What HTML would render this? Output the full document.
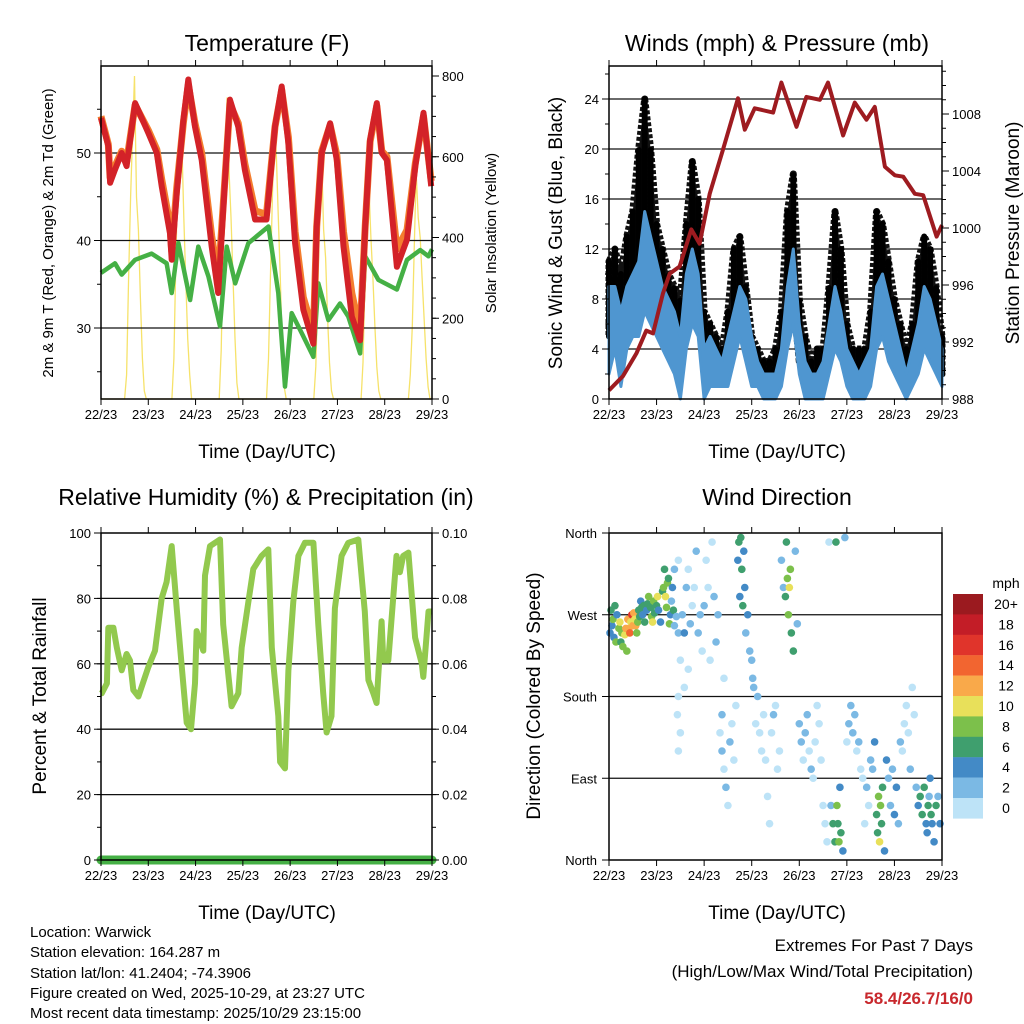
<!DOCTYPE html>
<html><head><meta charset="utf-8"><style>
body{margin:0;background:#fff;width:1024px;height:1024px;overflow:hidden;font-family:"Liberation Sans",sans-serif}
svg{display:block}
.t{font-family:"Liberation Sans",sans-serif;fill:#000}
</style></head><body>
<svg id="s" width="1024" height="1024" viewBox="0 0 1024 1024" xmlns="http://www.w3.org/2000/svg">
<text class="t" x="267" y="51" font-size="23" text-anchor="middle">Temperature (F)</text>
<text class="t" x="777" y="51" font-size="23" text-anchor="middle">Winds (mph) &amp; Pressure (mb)</text>
<text class="t" x="266" y="505" font-size="23" text-anchor="middle">Relative Humidity (%) &amp; Precipitation (in)</text>
<text class="t" x="777" y="505" font-size="23" text-anchor="middle">Wind Direction</text>
<text class="t" transform="translate(53,233) rotate(-90)" font-size="15" text-anchor="middle">2m &amp; 9m T (Red, Orange) &amp; 2m Td (Green)</text>
<text class="t" transform="translate(496,233) rotate(-90)" font-size="15" text-anchor="middle">Solar Insolation (Yellow)</text>
<text class="t" transform="translate(562,233) rotate(-90)" font-size="19" text-anchor="middle">Sonic Wind &amp; Gust (Blue, Black)</text>
<text class="t" transform="translate(1019,233) rotate(-90)" font-size="19" text-anchor="middle">Station Pressure (Maroon)</text>
<text class="t" transform="translate(46,696) rotate(-90)" font-size="19" text-anchor="middle">Percent &amp; Total Rainfall</text>
<text class="t" transform="translate(540,696) rotate(-90)" font-size="19" text-anchor="middle">Direction (Colored By Speed)</text>
<text class="t" x="267" y="458" font-size="19" text-anchor="middle">Time (Day/UTC)</text>
<text class="t" x="777" y="458" font-size="19" text-anchor="middle">Time (Day/UTC)</text>
<text class="t" x="267" y="919" font-size="19" text-anchor="middle">Time (Day/UTC)</text>
<text class="t" x="777" y="919" font-size="19" text-anchor="middle">Time (Day/UTC)</text>
<g font-size="15">
<text class="t" x="30" y="937">Location: Warwick</text>
<text class="t" x="30" y="957">Station elevation: 164.287 m</text>
<text class="t" x="30" y="978">Station lat/lon: 41.2404; -74.3906</text>
<text class="t" x="30" y="998">Figure created on Wed, 2025-10-29, at 23:27 UTC</text>
<text class="t" x="30" y="1018">Most recent data timestamp: 2025/10/29 23:15:00</text>
</g>
<text class="t" x="973" y="951" font-size="17" text-anchor="end">Extremes For Past 7 Days</text>
<text class="t" x="973" y="977" font-size="17" text-anchor="end">(High/Low/Max Wind/Total Precipitation)</text>
<text x="973" y="1004" font-size="17" font-weight="bold" text-anchor="end" fill="#c8282d" font-family="Liberation Sans, sans-serif">58.4/26.7/16/0</text>
<text class="t" x="1006" y="588" font-size="14" text-anchor="middle">mph</text>
</svg>
<script>
var dayLabels=["22/23","23/23","24/23","25/23","26/23","27/23","28/23","29/23"];
var tempH=[0,3.7,4.6,7.1,10.5,13,17.3,24,28.3,30.8,35,35.9,38.4,41.8,44.3,47.7,51.1,56.2,59.5,62,65.4,69.7,73,78.2,84,88.3,91.7,95.1,98.5,102.7,107.8,109.5,112,116.3,119.7,123.1,127.3,131.5,134.1,136.6,140,142.5,145.1,150.2,155.3,159.5,163.7,167.6];
var tempRed=[54,50.8,46.6,48.1,50,48.5,55.7,52.3,50,46.2,40.8,37.8,45.4,53.8,58.4,53,49.2,39.3,34,43.5,56.1,53,48.1,42.4,42.4,53,57.6,51.1,39.7,32.1,28.2,41.6,50,53.4,49.2,39.3,31.3,28.6,41.6,51.5,55.7,50,49.2,37,40.1,48.5,54.6,46.2];
var tempOrange=[54.2,51,47.2,48.5,50.2,49,55.5,52.6,50.4,47,41.8,38.8,46,53.5,57.8,53.4,50,40.5,35.5,44,55.6,53.4,48.8,43.4,43,53,57.2,51.8,41,33.5,29.5,41.6,50.2,53.2,49.8,41,34,29.5,41.6,51.3,55.4,50.2,49.6,39,41.2,48.8,54.2,46.8];
var dewH=[0,7.1,10.5,17.3,25.7,33.3,35.9,39.3,45.2,49.4,54.5,60.4,63.8,68.1,74.8,85,90,93.4,96.8,101.9,107.8,110.3,115.4,121.3,125.5,131.5,134.1,140.8,150.2,155.3,162,166.2,168];
var dewV=[36.3,37.4,36.1,37.8,38.5,37.4,34,39.7,33.2,39.3,35.9,30.2,39.3,35.1,39.7,41.6,34,23.3,31.7,29.4,26.7,35.1,30.9,32.8,31.3,27.1,38.2,35.5,34.4,37.8,38.9,38.2,39];
var solarH=[0,12,13,14,15,16,17,18,19,20,21,22,23,36,37,38,39,40,41,42,43,44,45,46,60,61,62,63,64,65,66,67,68,69,70,84,85,86,87,88,89,90,91,92,93,94,108,109,110,111,112,113,114,115,116,117,118,132,133,134,135,136,137,138,139,140,141,142,156,157,158,159,160,161,162,163,164,165,166,167,168];
var solarV=[0,0,60,300,500,650,800,500,420,250,100,20,0,0,100,350,550,620,640,450,300,150,60,0,0,120,380,600,747,560,450,300,150,40,0,0,100,300,500,698,600,450,300,120,30,0,0,80,250,480,592,420,350,200,90,20,0,0,90,300,600,520,400,300,180,80,20,0,0,60,180,380,560,450,400,300,200,100,30,0,0];
var presH=[0,2,7,13.8,18.8,22.2,27.2,30.6,35.6,41.5,45.7,50.8,57.5,65.1,68.5,73.5,82.8,87,94.6,99.6,106.4,110.5,118.1,124,129.9,134.1,139.2,144.2,148.5,154.3,158.5,165.3,168];
var presV=[988.6,988.9,989.6,991.2,992.8,992.6,995.4,996.8,997.3,999.9,998.9,1002.4,1005.5,1009.1,1006.9,1008.4,1008.1,1010.2,1007.1,1009.2,1009,1010.2,1006.5,1008.8,1007.6,1008.5,1004.3,1003.7,1003.6,1002.4,1002.3,999.4,1000.2];
var windH=[0,3,6,9,12,15,18,21,24,27,30,33,36,39,42,45,48,51,54,57,60,63,66,69,72,75,78,81,84,87,90,93,96,99,102,105,108,111,114,117,120,123,126,129,132,135,138,141,144,147,150,153,156,159,162,165,168];
var windLo=[2,4,1,4,5,5,7,6,5,4,3,2,0,4,6,5,0,1,1,1,1,3,5,3,1,1,0,0,0,1,4,6,2,0,0,0,0,2,4,3,1,0,0,0,1,4,5,3,2,1,0,1,2,4,3,2,1];
var windHi=[9,9,7,9,10,11,15,13,11,9,8,7,5,10,12,10,4,5,4,3,5,7,9,8,5,3,2,2,2,4,9,12,6,3,2,2,3,6,9,7,4,3,2,3,4,9,10,8,6,4,2,4,6,9,8,6,4];
var gustHi=[11,12,10,13,15,20,24,20,14,12,10,9,8,14,19,16,7,6,5,4,7,12,13,9,5,4,3,3,4,7,15,18,8,5,3,4,4,9,15,12,6,4,4,4,7,15,14,11,8,6,4,6,11,13,12,9,5];
var gustLo=[5,6,3,6,8,10,12,10,7,6,5,4,3,7,10,8,3,3,2,2,3,6,7,5,2,2,1,1,1,3,7,8,3,2,1,1,1,4,8,6,3,2,2,2,3,7,8,5,4,3,2,2,5,7,6,4,2];
var rhH=[0,0.4,3,3.7,6.3,8,10.5,13,14.7,16.4,19,24,27.4,30.8,33.3,35.9,38.4,41,43.5,45.7,47.7,48.5,51.9,52.8,55.3,60.4,62,66.3,69.7,71.4,74.8,77.3,81.5,84.9,86.7,90,90.9,93.4,95.1,97.6,100.2,103.5,107.8,110.3,112.8,114.5,117,118.7,122.1,125.5,130.6,133.9,135.7,138.2,139.9,142.4,143.3,145.8,150,151.7,153.4,156,159.4,162.8,163.6,166.2,167.8];
var rhV=[51,51,54,71,71,65,58,63,61,52,50,59,64,80,85,96,77,59,42,40,54,70,64,87,96,98,72,47,51,65,79,89,93,95,65,44,30,28,58,79,93,97,97,72,51,39,44,77,93,97,98,76,55,51,48,73,61,61,93,88,93,94,68,60,56,76,76];
var precipH=[0,168];
var precipV=[0,0];
var dirH=[
0.5,1,1.5,2,2.5,3,3.5,4,5,5.5,
6,6.5,7,8,8.5,9,9.5,10,10.5,11,
11.5,12,12.5,13,13.5,14,14.5,15,15.5,16,
16.5,17,17.5,18,19,19.5,20,21,21.5,22,
22.5,23,24,24.5,25,26,27,27.5,28,28.5,
29,29.5,30,30.5,31,31.5,32,32.5,33,33,
34,34.5,35,35,35,35,36,36,37,38,
38,39,40,40,41,42,43,44,45,46,
47,48,49,50,51,52,53,54,55,56,
57,57,58,58,59,60,61,62,63,64,
65,65.5,66,66.5,67,67.5,68,68.5,69,70,
71,72,72.5,73,74,75,76,77,78,79,
80,81,82,83,84,85,86,87,88,89,
89.5,90,90.5,91,91.5,92,93,94,95,96,
97,98,99,100,101,102,103,104,105,106,
107,108,109,110,111,112,113,114,114.5,115,
115.5,116,116.5,117,118,119,120,121,122,123,
124,125,126,127,128,129,130,131,132,133,
134,135,135.5,136,136.5,137,137.5,138,139,140,
141,142,143,144,145,146,147,148,149,150,
151,152,153,154,155,156,157,158,159,160,
160.5,161,161.5,162,162.5,163,164,165,166,167];
var dirD=[
250,275,258,265,245,280,240,270,255,262,
240,250,235,248,255,230,265,255,250,262,
270,258,272,265,258,250,262,275,268,285,
278,270,280,262,275,282,290,278,268,262,
285,272,280,290,275,262,296,300,320,290,
278,305,310,260,270,285,300,275,258,320,
268,160,180,250,330,120,220,140,270,250,
190,300,210,320,260,280,300,340,250,270,
230,280,330,300,220,350,290,240,270,140,
160,120,200,100,80,60,130,150,110,170,
330,350,290,355,320,280,340,300,250,270,
230,220,200,190,150,180,140,120,160,110,
70,40,140,160,170,100,120,330,300,290,
350,310,270,300,320,250,230,340,260,150,
130,110,140,160,120,100,90,130,170,150,
110,60,40,20,350,60,40,20,350,60,
40,20,80,30,10,355,130,150,170,140,
160,120,130,100,90,40,80,60,110,100,
130,50,30,70,20,60,40,80,10,110,
90,60,100,50,80,40,130,120,150,170,
140,100,190,160,80,60,70,50,80,40,
30,60,70,90,50,40,20,60,70,40];
var dirS=[
4,6,5,8,4,6,9,5,8,10,
7,9,8,10,12,8,13,12,14,11,
16,12,13,10,12,8,9,6,7,5,
6,4,6,7,5,6,8,6,9,10,
8,7,6,10,4,5,6,9,7,10,
8,9,6,8,5,3,4,6,3,2,
3,0,1,2,1,0,0,1,3,4,
0,2,0,1,2,1,0,3,2,3,
0,2,1,0,1,0,2,3,2,1,
2,3,1,0,2,1,2,0,1,0,
4,6,5,6,7,6,5,4,3,4,
3,2,3,2,1,2,1,0,1,0,
1,0,1,2,1,0,1,2,3,6,
7,8,9,11,8,7,6,3,2,2,
2,1,2,2,1,2,1,0,0,1,
0,0,1,0,1,3,6,7,7,8,
6,8,4,7,5,2,1,2,2,3,
2,1,2,1,0,1,2,1,2,3,
4,6,7,8,10,9,7,6,5,4,
3,2,3,4,4,3,2,0,1,0,
1,2,0,1,3,5,6,7,6,5,
4,6,3,4,6,5,4,6,3,4];
var cbLabels=["20+","18","16","14","12","10","8","6","4","2","0"];
var cbColors=["#9b1a1f","#c31d27","#e0342b","#f26530","#f9a94a","#e8e05a","#7cc04b","#3f9f6e","#438ac6","#7bb9e4","#bde3f7"];

var NS="http://www.w3.org/2000/svg";
var svg=document.getElementById("s");
function mk(tag,attrs,parent){var e=document.createElementNS(NS,tag);for(var k in attrs)e.setAttribute(k,attrs[k]);(parent||svg).appendChild(e);return e;}
function panel(x0,x1,y0,y1){return {x0:x0,x1:x1,y0:y0,y1:y1,x:function(h){return x0+h/168*(x1-x0);}};}
function lin(d0,d1,p0,p1){return function(v){return p0+(v-d0)/(d1-d0)*(p1-p0);};}
function pathOf(xs,ys,fx,fy){var d="";for(var i=0;i<xs.length;i++){d+=(i?"L":"M")+fx(xs[i]).toFixed(1)+","+fy(ys[i]).toFixed(1);}return d;}
function bandOf(xs,hi,lo,fx,fy){var d="";for(var i=0;i<xs.length;i++)d+=(i?"L":"M")+fx(xs[i]).toFixed(1)+","+fy(hi[i]).toFixed(1);for(i=xs.length-1;i>=0;i--)d+="L"+fx(xs[i]).toFixed(1)+","+fy(lo[i]).toFixed(1);return d+"Z";}
function grid(P,vals,fy,g){vals.forEach(function(v){var l=mk("line",{x1:P.x0,x2:P.x1,y1:fy(v),y2:fy(v),stroke:"#111","stroke-width":1.3},g);});}
function frame(P,g){var r=mk("rect",{x:P.x0,y:P.y0,width:P.x1-P.x0,height:P.y1-P.y0,fill:"none",stroke:"#000","stroke-width":1.5},g);}
function xaxis(P,g){for(var i=0;i<dayLabels.length;i++){var x=P.x(i*24);mk("line",{x1:x,x2:x,y1:P.y1,y2:P.y1+6,stroke:"#000"},g);mk("line",{x1:x,x2:x,y1:P.y0,y2:P.y0-6,stroke:"#000"},g);var t=mk("text",{x:x,y:P.y1+20,"font-size":13,"text-anchor":"middle","class":"t"},g);t.textContent=dayLabels[i];}}
function yaxis(P,fy,major,minor,fmt,right,g){var x=right?P.x1:P.x0,s=right?1:-1;minor.forEach(function(v){mk("line",{x1:x,x2:x+s*4,y1:fy(v),y2:fy(v),stroke:"#000"},g);});major.forEach(function(v){mk("line",{x1:x,x2:x+s*7,y1:fy(v),y2:fy(v),stroke:"#000"},g);var t=mk("text",{x:x+s*10,y:fy(v)+5,"font-size":13,"text-anchor":right?"start":"end","class":"t"},g);t.textContent=fmt(v);});}
function rng(a,b,s){var r=[];for(var v=a;v<=b+1e-9;v+=s)r.push(+v.toFixed(4));return r;}

// ---- Temperature panel
var P1=panel(101,432,66,399);var g1=mk("g",{});
var ty=lin(30,50,328,153), sy=lin(0,800,399,76);
var sp=mk("path",{d:pathOf(solarH,solarV,P1.x,sy),fill:"none",stroke:"#f5df5a","stroke-width":1.3,opacity:0.9},g1);
grid(P1,[30,40,50],ty,g1);
var dp=mk("path",{d:pathOf(dewH,dewV,P1.x,ty),fill:"none",stroke:"#45b045","stroke-width":4.5,"stroke-linejoin":"round"},g1);
var op=mk("path",{d:pathOf(tempH,tempOrange,P1.x,ty),fill:"none",stroke:"#f47d2e","stroke-width":7,"stroke-linejoin":"round"},g1);
var rp=mk("path",{d:pathOf(tempH,tempRed,P1.x,ty),fill:"none",stroke:"#d32228","stroke-width":6,"stroke-linejoin":"round"},g1);
frame(P1,g1);xaxis(P1,g1);
yaxis(P1,ty,[30,40,50],rng(25,55,5),function(v){return v;},false,g1);
yaxis(P1,sy,[0,200,400,600,800],rng(0,800,50),function(v){return v;},true,g1);

// ---- Wind panel
var P2=panel(609,942,66,399);var g2=mk("g",{});
var wy=lin(0,24,399,99), py=lin(988,1008,399,114);
grid(P2,[4,8,12,16,20,24],wy,g2);
var gb=mk("path",{d:bandOf(windH,gustHi,gustLo,P2.x,wy),fill:"#111",stroke:"#111","stroke-width":7,"stroke-linejoin":"round","stroke-dasharray":"4 2"},g2);
for(var i=0;i<windH.length;i++){var gl=mk("line",{x1:P2.x(windH[i]),x2:P2.x(windH[i]),y1:wy(gustLo[i]),y2:wy(gustHi[i]),stroke:"#000","stroke-width":6,"stroke-linecap":"round","stroke-dasharray":"5 2"},g2);}
var bp=mk("path",{d:bandOf(windH,windHi,windLo,P2.x,wy),fill:"#4f96d0",stroke:"#4f96d0","stroke-width":3,"stroke-linejoin":"round"},g2);
var pp=mk("path",{d:pathOf(presH,presV,P2.x,py),fill:"none",stroke:"#9e1b20","stroke-width":4,"stroke-linejoin":"round"},g2);
frame(P2,g2);xaxis(P2,g2);
yaxis(P2,wy,[0,4,8,12,16,20,24],rng(0,26,2),function(v){return v;},false,g2);
yaxis(P2,py,[988,992,996,1000,1004,1008],rng(988,1011,1),function(v){return v;},true,g2);

// ---- RH panel
var P3=panel(101,432,533,860);var g3=mk("g",{});
var hy=lin(0,100,860,533), ry=lin(0,0.1,860,533);
grid(P3,[20,40,60,80],hy,g3);
var hp=mk("path",{d:pathOf(rhH,rhV,P3.x,hy),fill:"none",stroke:"#92c94e","stroke-width":6,"stroke-linejoin":"round"},g3);
var prp=mk("path",{d:pathOf(precipH,precipV,P3.x,ry),fill:"none",stroke:"#45b045","stroke-width":9,"stroke-linecap":"round"},g3);
frame(P3,g3);xaxis(P3,g3);
yaxis(P3,hy,[0,20,40,60,80,100],rng(0,100,10),function(v){return v;},false,g3);
yaxis(P3,ry,[0,0.02,0.04,0.06,0.08,0.1],rng(0,0.1,0.01),function(v){return v.toFixed(2);},true,g3);

// ---- Direction panel
var P4=panel(609,942,533,860);var g4=mk("g",{});
var dy=lin(0,360,860,533);
grid(P4,[90,180,270],dy,g4);
function spdColor(s){var idx=Math.max(0,Math.min(10,Math.floor(s/2)));return cbColors[10-idx];}
var nDir=Math.min(dirH.length,dirD.length,dirS.length);
for(i=0;i<nDir;i++){var c=mk("circle",{cx:P4.x(dirH[i]),cy:dy(dirD[i]),r:3.8,fill:spdColor(dirS[i])},g4);}
frame(P4,g4);xaxis(P4,g4);
var dirNames=["North","East","South","West","North"];
for(i=0;i<5;i++){var v=i*90;mk("line",{x1:P4.x0,x2:P4.x0-7,y1:dy(v),y2:dy(v),stroke:"#000"},g4);var t=mk("text",{x:P4.x0-12,y:dy(v)+5,"font-size":13,"text-anchor":"end","class":"t"},g4);t.textContent=dirNames[i];}
var cb=mk("g",{});
for(i=0;i<cbLabels.length;i++){var y=594+i*20.4;var r=mk("rect",{x:953,y:y,width:30,height:20.6,fill:cbColors[i]},cb);var t=mk("text",{x:1006,y:y+15,"font-size":14,"text-anchor":"middle","class":"t"},cb);t.textContent=cbLabels[i];}
</script>
</body></html>
